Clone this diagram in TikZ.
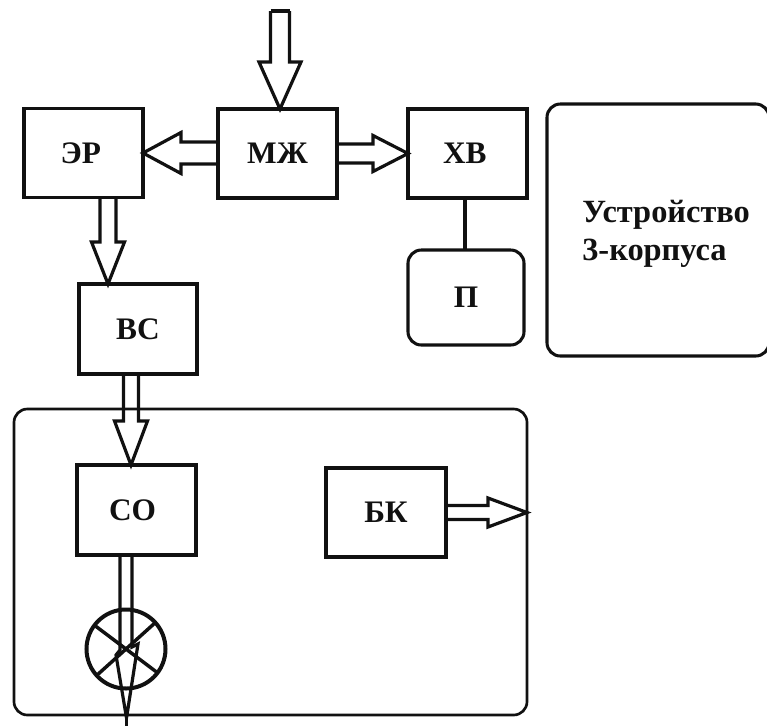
\documentclass[tikz,border=0pt]{standalone}
\usepackage{fontspec}
\setmainfont{Liberation Serif}
\usetikzlibrary{calc}
\def\upx{0.75pt}
\definecolor{ink}{HTML}{111111}
\tikzset{
  box/.style={draw=ink,line width=2.3pt,inner sep=0pt,outer sep=0pt,font=\fontsize{23.5pt}{27pt}\selectfont\bfseries,text=ink},
  rbox/.style={box,rounded corners=10pt},
  wire/.style={draw=ink,line width=2.4pt,line join=miter,miter limit=3},
}
% start, tip, half shaft, half head, head length (all px)
\newcommand\blockarrow[5]{%
  \coordinate (ba) at ($(#2)!#5*\upx!(#1)$);
  \draw[wire] ($(#1)!#3*\upx!90:(#2)$) -- ($(ba)!#3*\upx!90:(#2)$) -- ($(ba)!#4*\upx!90:(#2)$) -- (#2)
     -- ($(ba)!#4*\upx!-90:(#2)$) -- ($(ba)!#3*\upx!-90:(#2)$) -- ($(#1)!#3*\upx!-90:(#2)$);
}
\begin{document}
\begin{tikzpicture}[x=0.75pt,y=-0.75pt]
\useasboundingbox (0,0) rectangle (767,726);
\node[box,minimum width=119*\upx,minimum height=89*\upx] (er) at (83.5,153) {ЭР\kern4pt};
\node[box,minimum width=119*\upx,minimum height=89*\upx] (mj) at (277.5,153.5) {МЖ};
\node[box,minimum width=119*\upx,minimum height=89*\upx] (xv) at (467.5,153.5) {ХВ\kern4pt};
\node[rbox,minimum width=116*\upx,minimum height=95*\upx] (p) at (466,297.5) {П};
\node[rbox,minimum width=222*\upx,minimum height=252*\upx] (dev) at (658,230) {};
\node[font=\fontsize{24.3pt}{29pt}\selectfont\bfseries,text=ink,align=left,anchor=west,inner sep=0pt] (devtext) at (582,234) {Устройство\\3-корпуса};
\node[box,minimum width=118*\upx,minimum height=90*\upx] (vs) at (138,329) {ВС};
\node[rbox,line width=2pt,minimum width=513*\upx,minimum height=306*\upx] (big) at (270.5,562) {};
\node[box,minimum width=119*\upx,minimum height=90*\upx] (so) at (136.5,510) {СО\kern6pt};
\node[box,minimum width=120*\upx,minimum height=89*\upx] (bk) at (386,512.5) {БК};
\coordinate (topin) at (280,11);
\coordinate (botout) at (126.5,726);
\node[draw=ink,line width=3pt,circle,minimum size=79*\upx,inner sep=0pt,outer sep=0pt] (lamp) at (126,649) {};
\draw[line width=2.6pt,draw=ink] (lamp.143) -- (lamp.-37) (lamp.42) -- (lamp.222);
\blockarrow{topin}{$(mj.north)+(2.5,0)$}{9.5}{21}{47}
\draw[wire,line cap=square] ($(topin)+(-9.5,0)$) -- ($(topin)+(9.5,0)$);
\blockarrow{mj.west |- er.east}{er.east}{11}{20.5}{38}
\blockarrow{mj.east}{xv.west}{9.5}{18}{35}
\blockarrow{$(er.south)+(24.5,0)$}{$(vs.north)+(-30,0)$}{8}{16.5}{42}
\blockarrow{$(vs.south)+(-7,0)$}{$(so.north)+(-5.5,0)$}{7.5}{16.5}{44}
\coordinate (bktip) at (big.east |- bk.east);
\blockarrow{bk.east}{bktip}{7}{14.5}{39}
% lamp arrow
\coordinate (tiplow) at (126.5,718);
\draw[wire] ($(so.south)+(-16.5,0)$) -- (120,650) -- (116,655) -- (tiplow) -- (138,644) -- (132,647) -- ($(so.south)+(-4.5,0)$);
\draw[wire] (tiplow) -- (botout);
\draw[wire,line width=3pt] ($(xv.south)+(-2.5,0)$) -- ($(p.north)+(-1,0)$);
\end{tikzpicture}
\end{document}
